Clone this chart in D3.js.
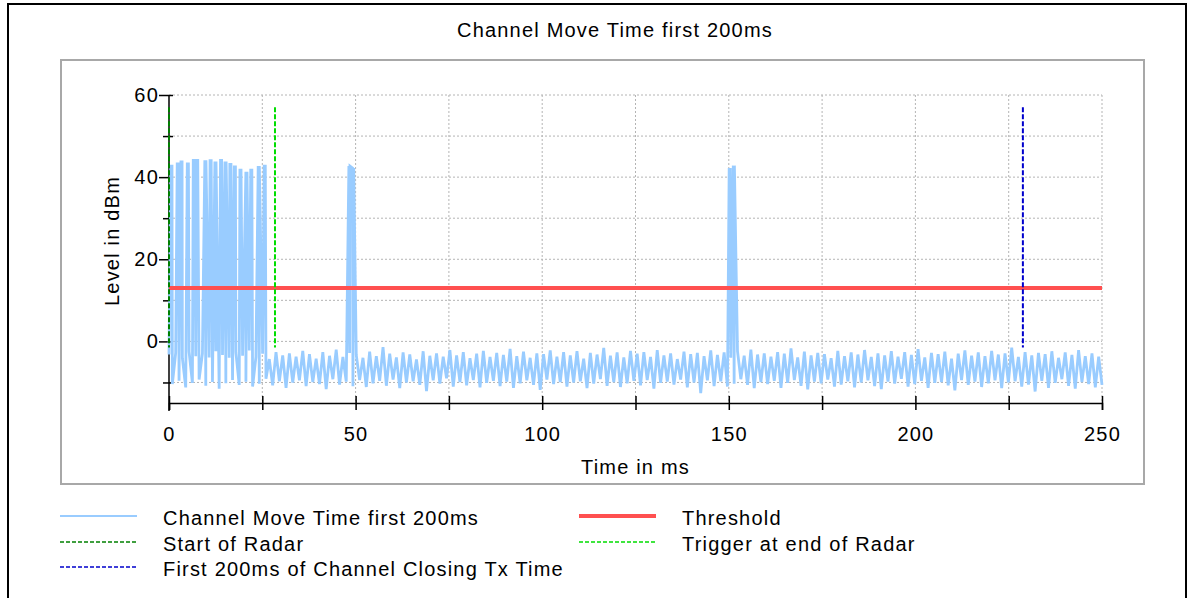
<!DOCTYPE html>
<html>
<head>
<meta charset="utf-8">
<script src="https://cdn.jsdelivr.net/npm/d3@7/dist/d3.min.js"></script>
<style>
body{margin:0;background:#fff;}
text{font-family:"Liberation Sans",Arial,sans-serif;fill:#000;font-size:20px;letter-spacing:1.2px;}
</style>
</head>
<body>
<div id="chart"></div>
<script>
// measured level (dBm), evenly sampled over 0..250 ms
var noiseLevels=[
-3.2,-10.4,-2.8,-9.6,-4.1,-11.2,-2.5,-10.1,-3.6,-9.3,-2.9,-10.8,-3.9,-9.9,-2.4,-11.5,-3.3,-10.2,-4.0,-9.4,
-2.7,-10.6,-3.5,-9.8,-2.2,-11.0,-3.8,-10.3,-3.0,-9.1,-4.3,-10.7,-2.6,-9.7,-3.4,-11.3,-2.9,-10.0,-3.7,-9.5,
-2.3,-10.9,-3.1,-9.9,-4.2,-10.4,-2.6,-11.6,-3.5,-9.2,-2.0,-10.5,-3.8,-9.8,-2.8,-10.9,-3.3,-9.4,-4.0,-11.1,
-2.5,-10.2,-3.6,-9.6,-1.4,-10.8,-3.0,-9.3,-3.9,-11.4,-2.7,-10.0,-3.2,-9.7,-4.4,-10.6,-2.4,-12.1,-3.5,-9.5,
-2.9,-10.3,-3.7,-9.0,-2.1,-11.0,-3.4,-9.9,-2.6,-10.7,-4.1,-9.4,-3.0,-11.2,-2.3,-10.1,-3.8,-9.6,-2.8,-10.9,
-3.3,-9.8,-1.8,-11.3,-3.6,-10.2,-2.5,-9.5,-4.0,-10.6,-2.9,-11.8,-3.1,-9.3,-2.2,-10.4,-3.7,-9.9,-2.6,-11.0,
-3.4,-10.0,-2.4,-9.7,-4.2,-11.4,-2.8,-10.3,-3.2,-9.2,-1.6,-10.8,-3.5,-9.9,-2.7,-11.1,-3.9,-10.2,-2.3,-9.6,
-3.0,-10.7,-2.6,-9.4,-3.8,-11.5,-2.1,-10.1,-3.4,-9.8,-2.9,-10.5,-4.3,-9.3,-2.5,-11.2,-3.1,-10.0,-2.8,-12.6,
-3.6,-9.5,-2.2,-10.9,-3.3,-9.7,-2.7,-11.0,-4.0,-10.3,-2.4,-9.2,-3.5,-10.6,-2.0,-11.4,-3.2,-9.9,-2.9,-10.4,
-3.7,-9.6,-2.6,-11.3,-3.0,-10.1,-1.7,-9.4,-3.9,-10.8,-2.5,-11.7,-3.4,-9.8,-2.8,-10.2,-3.1,-9.3,-4.1,-11.0,
-2.3,-10.5,-3.6,-9.7,-2.7,-11.2,-3.2,-10.0,-2.1,-9.5,-3.8,-10.9,-2.9,-11.6,-3.4,-9.8,-2.4,-10.3,-3.7,-9.1,
-2.6,-11.0,-3.3,-10.4,-1.9,-9.6,-3.9,-11.3,-2.8,-10.1,-3.1,-9.9,-2.5,-10.7,-4.2,-11.9,-3.0,-9.4,-2.2,-10.6,
-3.5,-9.8,-2.7,-11.1,-3.6,-10.2,-2.3,-9.5,-3.2,-11.4,-2.9,-10.0,-1.5,-9.7,-3.8,-11.0,-2.6,-10.5,-3.4,-12.2,
-2.8,-9.6,-3.1,-11.3,-2.4,-10.1,-4.0,-9.2,-2.7,-10.8,-3.3,-11.5,-2.1,-9.9,-3.6,-10.4,-2.9,-11.2,-3.7,-10.6
];
var pulseTimes=[0.5,2.2,3.2,4.9,6.5,7.4,9.6,11.0,12.3,13.8,15.0,16.3,17.5,19.0,20.6,21.9,23.9,25.5,48.2,49.2,150.1,151.2];
var pulsePeaks=[42.7,43.2,43.7,43.2,44.1,44.1,44.1,44.0,43.8,44.1,43.8,43.1,42.5,41.7,41.3,41.7,42.7,42.7,42.7,42.2,41.9,42.8];
var threshold=13;
var markerNames=["Start of Radar","Trigger at end of Radar","First 200ms of Channel Closing Tx Time"];
var markerTimes=[0,28.4,228.8];
var markerRange=[-1.5,57];
var xTicks=[0,50,100,150,200,250];
var yTicks=[0,20,40,60];

var W=1194,H=598;
var pLeft=169,pRight=1102,pTop=95,pBottom=403;
var pulseWidth=0.3;

var svg=d3.select("#chart").append("svg").attr("width",W).attr("height",H);

// frames
svg.append("rect").attr("x",8).attr("y",4).attr("width",1178).attr("height",620)
	.attr("fill","none").attr("stroke","#000").attr("stroke-width",2);
svg.append("rect").attr("x",61).attr("y",60).attr("width",1083).attr("height",424)
	.attr("fill","none").attr("stroke","#a8a8a8").attr("stroke-width",2);

svg.append("text").attr("x",615).attr("y",37).attr("text-anchor","middle")
	.text("Channel Move Time first 200ms");

var x=d3.scaleLinear().domain([0,250]).range([pLeft,pRight]);
var y=d3.scaleLinear().domain([-15,60]).range([pBottom,pTop]);

// grid
var grid=svg.append("g").attr("stroke","#b4b4b4").attr("stroke-dasharray","2,2").attr("stroke-width",1);
grid.selectAll(".hg").data(d3.range(-10,61,10)).enter().append("line")
	.attr("x1",pLeft).attr("x2",pRight).attr("y1",function(d){return y(d);}).attr("y2",function(d){return y(d);});
grid.selectAll(".vg").data(d3.range(25,251,25)).enter().append("line")
	.attr("x1",function(d){return x(d);}).attr("x2",function(d){return x(d);}).attr("y1",pTop).attr("y2",pBottom);

// axes
var xAxis=d3.axisBottom(x).tickValues(d3.range(0,251,25)).tickSize(7)
	.tickFormat(function(d){return xTicks.indexOf(d)>=0?d:"";});
var gx=svg.append("g").attr("transform","translate(0,"+pBottom+")").call(xAxis);
gx.select(".domain").attr("stroke-width",1.5);
gx.selectAll(".tick line").attr("y1",-7).attr("stroke-width",1.5);
gx.selectAll(".tick text").attr("y",24).style("font-size","20px");

var yAxis=d3.axisLeft(y).tickValues(d3.range(-10,61,10)).tickSize(8)
	.tickFormat(function(d){return yTicks.indexOf(d)>=0?d:"";});
var gy=svg.append("g").attr("transform","translate("+pLeft+",0)").call(yAxis);
gy.select(".domain").attr("d","M0,"+pTop+"V"+(pBottom+8)).attr("stroke-width",1.5);
gy.selectAll(".tick line").attr("x2",function(d){return yTicks.indexOf(d)>=0?-10:-6;}).attr("x1",4).attr("stroke-width",1.5);
gy.selectAll(".tick text").attr("x",-10).style("font-size","20px");

svg.append("text").attr("x",(pLeft+pRight)/2).attr("y",474).attr("text-anchor","middle")
	.text("Time in ms");
svg.append("text").attr("transform","translate(119,"+((pTop+pBottom)/2-8)+") rotate(-90)")
	.attr("text-anchor","middle").text("Level in dBm");

// signal series: noise samples plus pulse tops
var pts=noiseLevels.map(function(v,i){return {t:i*250/(noiseLevels.length-1),v:v};});
pulseTimes.forEach(function(t,i){
	pts.push({t:t,v:pulsePeaks[i]});
	pts.push({t:t+pulseWidth,v:pulsePeaks[i]});
});
pts.sort(function(a,b){return a.t-b.t;});

var line=d3.line().x(function(d){return x(d.t);}).y(function(d){return y(d.v);});
svg.append("path").datum(pts).attr("d",line).attr("fill","none")
	.attr("stroke","#99ccff").attr("stroke-width",2.8).attr("stroke-linejoin","miter");

svg.append("line").attr("x1",x(0)).attr("x2",x(250)).attr("y1",y(threshold)).attr("y2",y(threshold))
	.attr("stroke","#ff5050").attr("stroke-width",4);

var markerColors=["#008000","#00dd00","#0000cc"];
svg.selectAll(".marker").data(markerTimes).enter().append("line")
	.attr("x1",function(d){return x(d);}).attr("x2",function(d){return x(d);})
	.attr("y1",y(markerRange[1])).attr("y2",y(markerRange[0]))
	.attr("stroke",function(d,i){return markerColors[i];})
	.attr("stroke-width",2).attr("stroke-dasharray","5,2");

// legend
var legend=[
	{name:"Channel Move Time first 200ms",color:"#99ccff",w:2,dash:null,col:0,row:0},
	{name:"Threshold",color:"#ff5050",w:4,dash:null,col:1,row:0},
	{name:markerNames[0],color:markerColors[0],w:1.5,dash:"4,2",col:0,row:1},
	{name:markerNames[1],color:markerColors[1],w:1.5,dash:"4,2",col:1,row:1},
	{name:markerNames[2],color:markerColors[2],w:1.5,dash:"4,2",col:0,row:2}
];
var colX=[60,579],rowY=[517,543,568];
var lg=svg.append("g").selectAll("g").data(legend).enter().append("g")
	.attr("transform",function(d){return "translate("+colX[d.col]+","+rowY[d.row]+")";});
lg.append("line").attr("x1",0).attr("x2",77).attr("y1",-1).attr("y2",-1)
	.attr("stroke",function(d){return d.color;}).attr("stroke-width",function(d){return d.w;})
	.attr("stroke-dasharray",function(d){return d.dash;});
lg.append("text").attr("x",103).attr("y",8).text(function(d){return d.name;});
</script>
</body>
</html>
